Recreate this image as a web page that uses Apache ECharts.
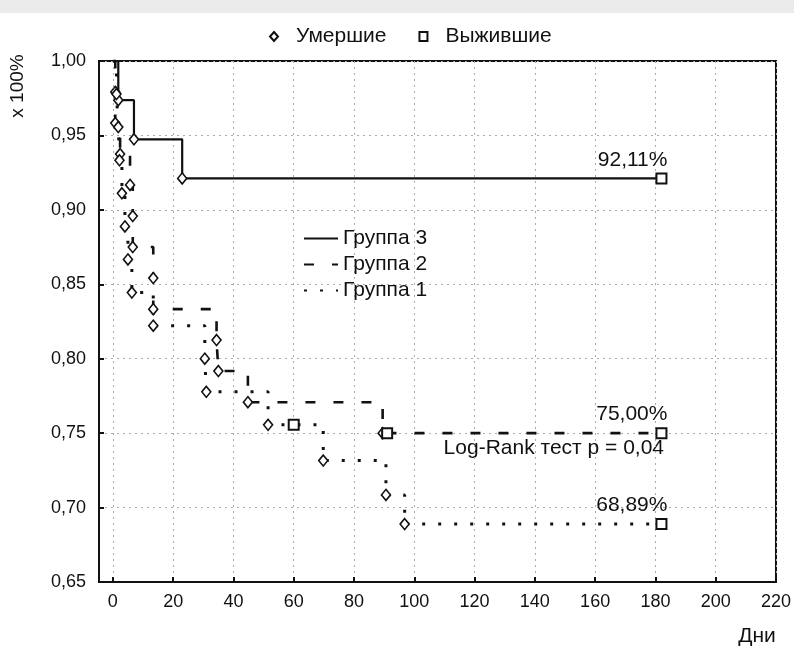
<!DOCTYPE html>
<html>
<head>
<meta charset="utf-8">
<title>Выживаемость по группам</title>
<script src="https://cdn.jsdelivr.net/npm/echarts@6.0.0/dist/echarts.min.js"></script>
<style>
  html, body { margin: 0; padding: 0; background: #fff; }
  #main { width: 794px; height: 650px; }
</style>
</head>
<body>
<div id="main"></div>
<script>
// дни и доля выживших после каждого шага (Каплан-Мейер)
const group3Days = [0, 1.8, 7, 23, 182];
const group3Surv = [1, 0.9737, 0.9474, 0.9211, 0.9211];
const group3Cens = [182];

const group2Days = [0, 0.8, 0.8, 2.4, 5.7, 6.6, 6.6, 13.4, 13.4, 34.4, 35, 44.8, 89.5, 182];
const group2Surv = [1, 0.9792, 0.9583, 0.9375, 0.9167, 0.8958, 0.875, 0.8542, 0.8333, 0.8125, 0.7917, 0.7708, 0.75, 0.75];
const group2Cens = [91, 182];

const group1Days = [0, 1.2, 1.8, 2.2, 3, 4, 5, 6.3, 13.4, 30.5, 31, 51.5, 69.8, 90.6, 96.8, 182];
const group1Surv = [1, 0.9778, 0.9556, 0.9333, 0.9111, 0.8889, 0.8667, 0.8444, 0.8222, 0.8, 0.7778, 0.7556, 0.7316, 0.7085, 0.6889, 0.6889];
const group1Cens = [60, 182];

const finalLabels = ['92,11%', '75,00%', '68,89%'];
const xTicks = [0, 20, 40, 60, 80, 100, 120, 140, 160, 180, 200, 220];

const ink = '#111';
const font = "'Liberation Sans', Arial, sans-serif";

function steps(days, surv) {
	return days.map((d, i) => [d, surv[i]]);
}
// точки, где кривая падает (умершие)
function deaths(days, surv) {
	let out = [];
	for (let i = 1; i < days.length; i++) {
		if (surv[i] < surv[i - 1]) out.push([days[i], surv[i]]);
	}
	return out;
}
function survAt(days, surv, t) {
	let v = surv[0];
	for (let i = 0; i < days.length; i++) {
		if (days[i] <= t) v = surv[i];
	}
	return v;
}

let groups = [
	{days: group3Days, surv: group3Surv, cens: group3Cens, label: finalLabels[0]},
	{days: group2Days, surv: group2Surv, cens: group2Cens, label: finalLabels[1]},
	{days: group1Days, surv: group1Surv, cens: group1Cens, label: finalLabels[2]}
];

let deadPts = [];
let alivePts = [];
groups.forEach(g => {
	deadPts = deadPts.concat(deaths(g.days, g.surv));
	g.cens.forEach((c, i) => {
		let item = {value: [c, survAt(g.days, g.surv, c)]};
		if (i === g.cens.length - 1) {
			item.label = {
				show: true, formatter: g.label, position: 'top', align: 'right',
				offset: [6, 1], distance: 3, fontSize: 21, color: ink, fontFamily: font, opacity: 1
			};
		}
		alivePts.push(item);
	});
});

let myChart = echarts.init(document.getElementById('main'));
let option = {
	animation: false,
	backgroundColor: '#fff',
	textStyle: {fontFamily: font},
	grid: {left: 99, right: 16, top: 61, bottom: 68, show: true, borderColor: ink, borderWidth: 2},
	legend: [
		{
			data: [{name: 'Умершие', icon: 'diamond'}, {name: 'Выжившие', icon: 'rect'}],
			left: 264, top: 21, itemWidth: 8, itemHeight: 9, itemGap: 32,
			textStyle: {fontSize: 21, color: ink, fontFamily: font, padding: [0, 0, 0, 13]}
		},
		{
			data: ['Группа 3', 'Группа 2', 'Группа 1'],
			orient: 'vertical', left: 298, top: 223, itemWidth: 34, itemHeight: 12, itemGap: 5,
			itemStyle: {opacity: 0},
			textStyle: {fontSize: 21, color: ink, fontFamily: font}
		}
	],
	xAxis: {
		type: 'value', min: -4.6, max: 220,
		axisLine: {show: true, onZero: false, lineStyle: {color: ink, width: 2}},
		axisTick: {show: true, inside: true, length: 5, customValues: xTicks, lineStyle: {color: ink, width: 2}},
		axisLabel: {customValues: xTicks, fontSize: 18, color: ink, margin: 11, fontFamily: font},
		splitLine: {show: true, lineStyle: {color: '#aaa', width: 1, type: [2, 4]}}
	},
	yAxis: {
		type: 'value', min: 0.65, max: 1, interval: 0.05,
		axisLine: {show: true, onZero: false, lineStyle: {color: ink, width: 2}},
		axisTick: {show: true, inside: true, length: 5, lineStyle: {color: ink, width: 2}},
		axisLabel: {fontSize: 18, color: ink, margin: 13, fontFamily: font,
			formatter: v => v.toFixed(2).replace('.', ',')},
		splitLine: {show: true, lineStyle: {color: '#aaa', width: 1, type: [2, 4]}}
	},
	graphic: [
		{type: 'rect', left: 0, top: 0, shape: {width: 794, height: 13}, style: {fill: '#ebebeb'}, silent: true},
		{type: 'text', x: 18, y: 86, rotation: Math.PI / 2,
			style: {text: 'x 100%', font: '19px ' + font, fill: ink, textAlign: 'center', textVerticalAlign: 'middle', align: 'center', verticalAlign: 'middle'}},
		{type: 'text', x: 757, y: 636,
			style: {text: 'Дни', font: '21px ' + font, fill: ink, textAlign: 'center', textVerticalAlign: 'middle', align: 'center', verticalAlign: 'middle'}},
		{type: 'text', x: 664, y: 448,
			style: {text: 'Log-Rank тест p = 0,04', font: '21px ' + font, fill: ink, textAlign: 'right', textVerticalAlign: 'middle', align: 'right', verticalAlign: 'middle'}}
	],
	series: [
		{
			name: 'Группа 3', type: 'line', step: 'end', symbol: 'none',
			data: steps(group3Days, group3Surv),
			lineStyle: {color: ink, width: 2.2, type: 'solid'}, itemStyle: {color: ink}, z: 3
		},
		{
			name: 'Группа 2', type: 'line', step: 'end', symbol: 'none',
			data: steps(group2Days, group2Surv),
			lineStyle: {color: ink, width: 2.6, type: [10, 18]}, itemStyle: {color: ink}, z: 3
		},
		{
			name: 'Группа 1', type: 'line', step: 'end', symbol: 'none',
			data: steps(group1Days, group1Surv),
			lineStyle: {color: ink, width: 3, type: [3, 13]}, itemStyle: {color: ink}, z: 3
		},
		{
			name: 'Умершие', type: 'scatter', symbol: 'diamond', symbolSize: [9, 11],
			data: deadPts,
			itemStyle: {color: '#fff', borderColor: ink, borderWidth: 1.6, opacity: 1}, z: 5
		},
		{
			name: 'Выжившие', type: 'scatter', symbol: 'rect', symbolSize: 10,
			data: alivePts,
			itemStyle: {color: '#fff', borderColor: ink, borderWidth: 2, opacity: 1}, z: 5
		}
	]
};
myChart.setOption(option);
</script>
</body>
</html>
